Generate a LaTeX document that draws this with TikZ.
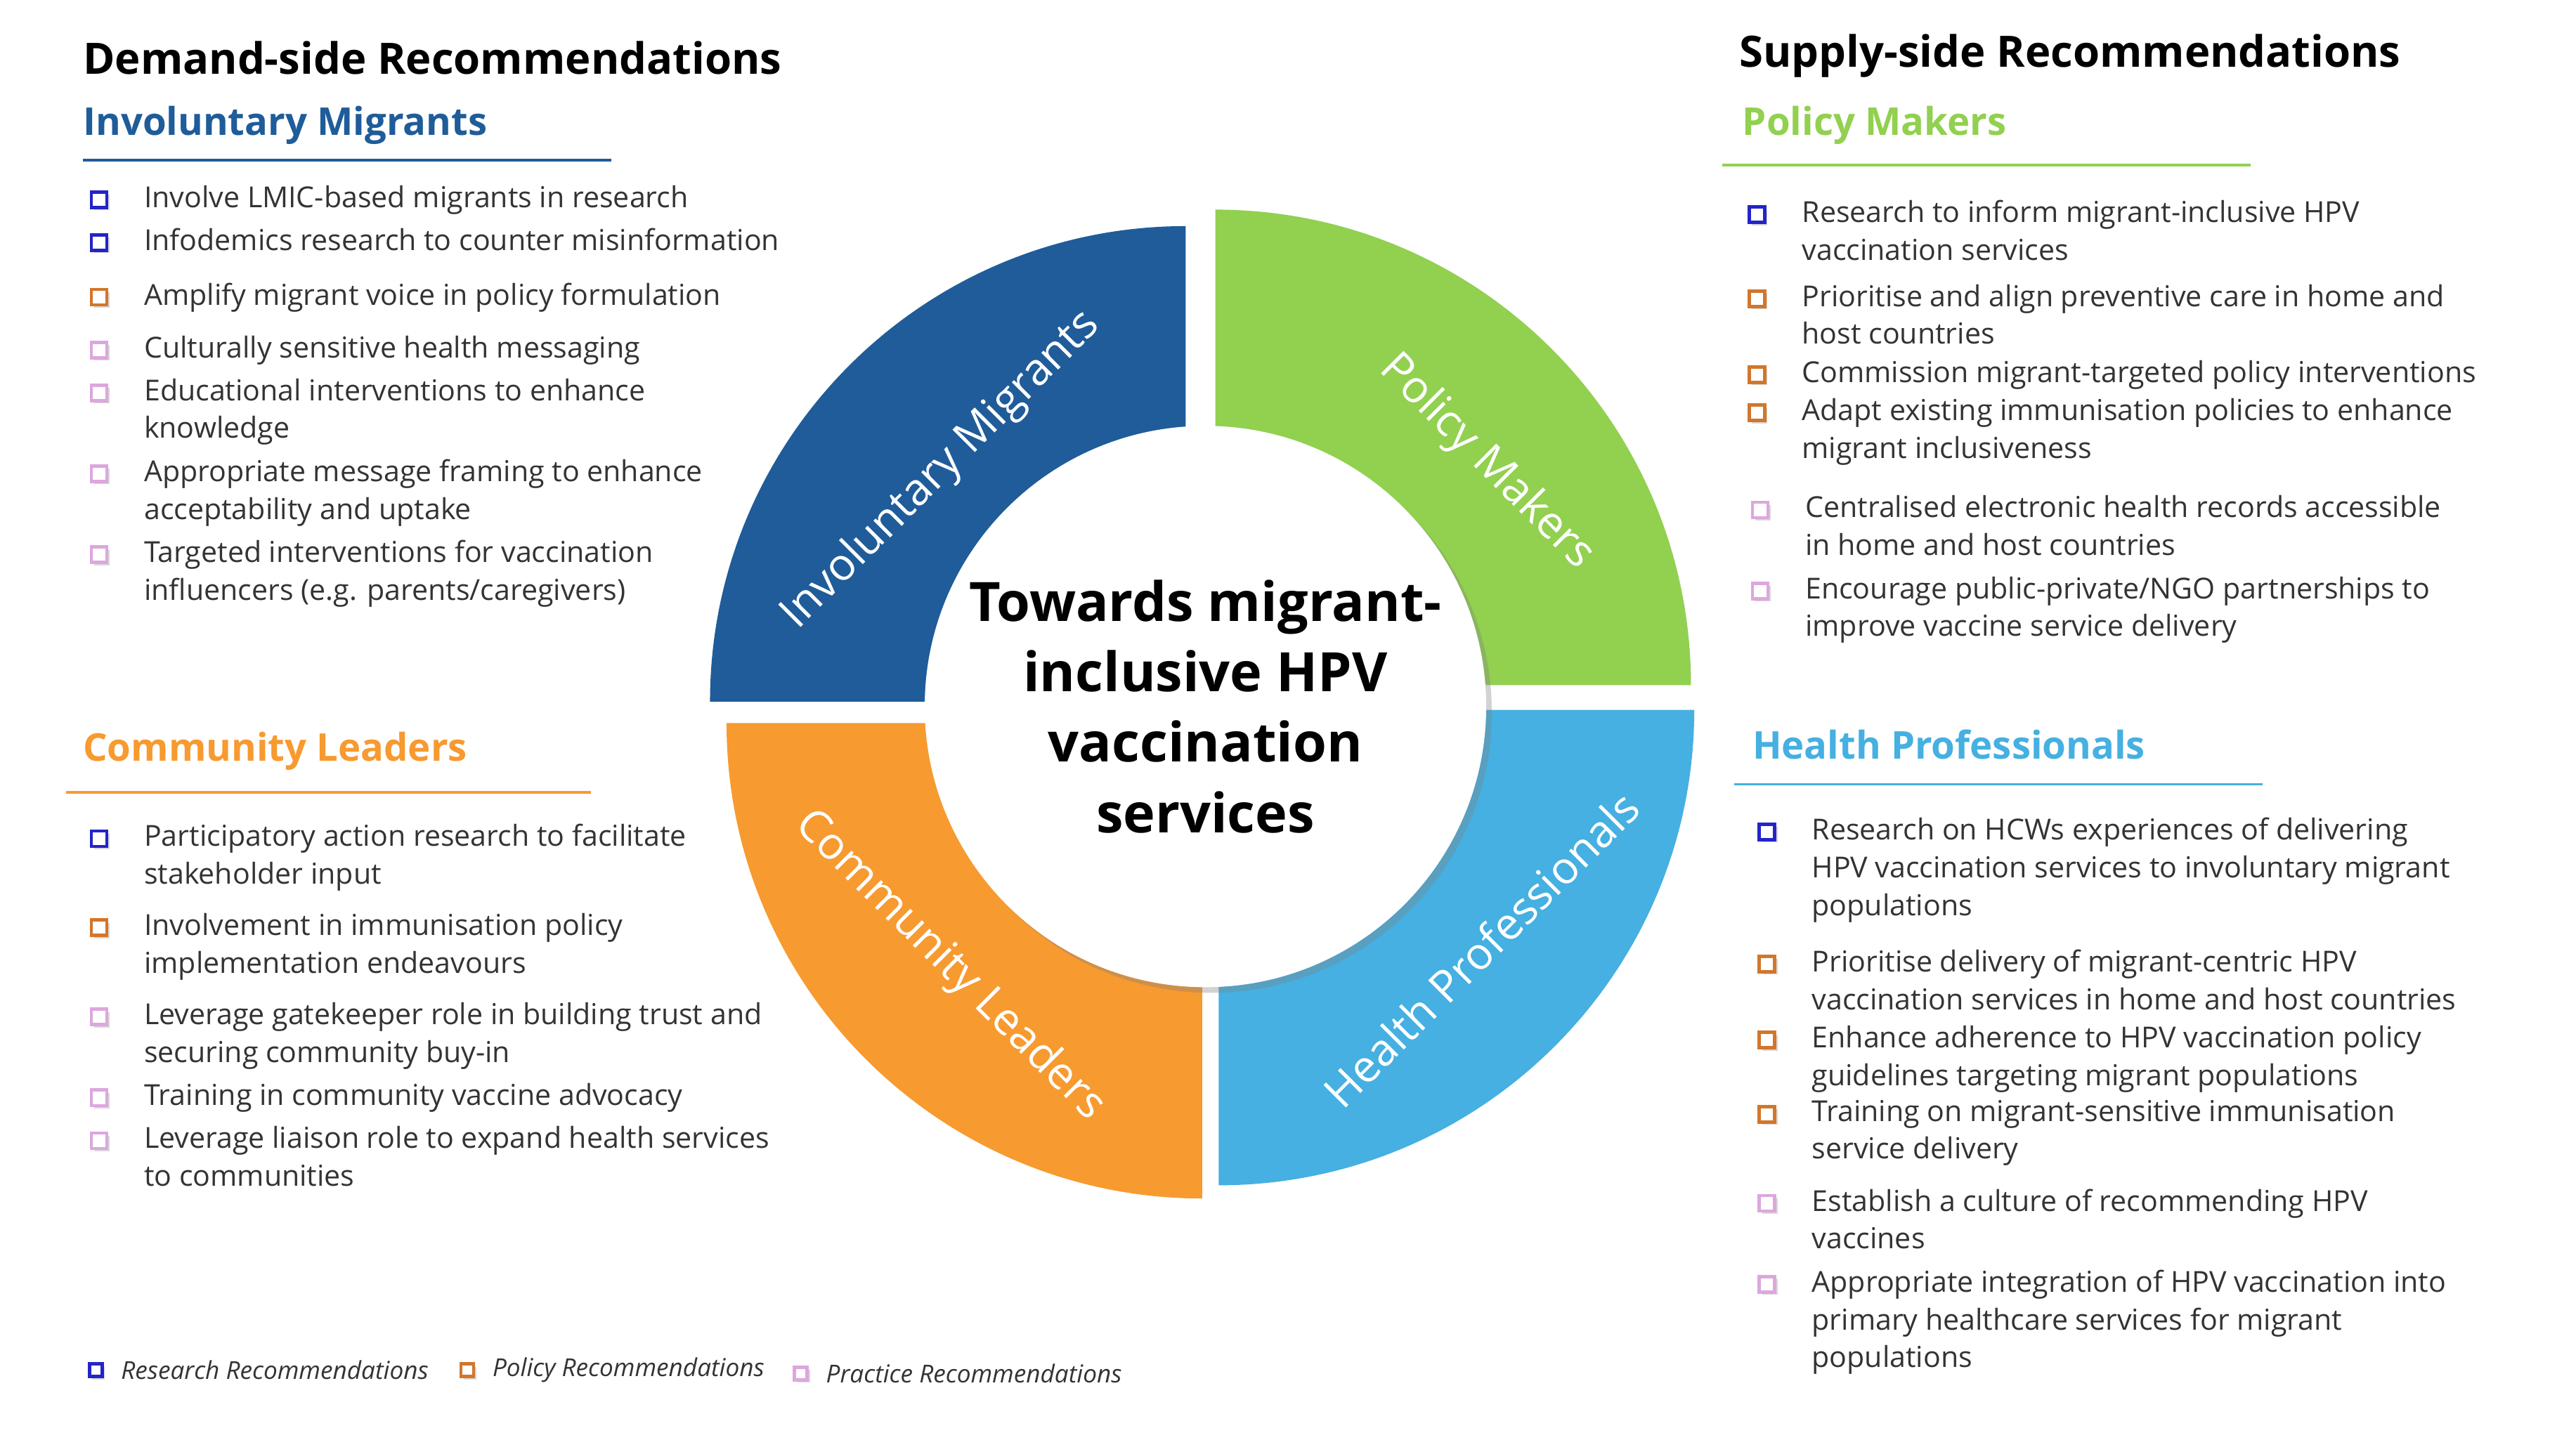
\documentclass[tikz,border=0pt]{standalone}
\usepackage{fontspec}
\setmainfont{Open Sans}
\usetikzlibrary{shadows}

\definecolor{imblue}{HTML}{1F5C99}
\definecolor{pmgreen}{HTML}{92D050}
\definecolor{hpblue}{HTML}{45B0E1}
\definecolor{clorange}{HTML}{F79A30}
\definecolor{resbox}{HTML}{2424C8}
\definecolor{polbox}{HTML}{D2762A}
\definecolor{prabox}{HTML}{DDA6DD}
\definecolor{txtgray}{HTML}{333333}

\tikzset{
  chk/.style={draw=#1, fill=white, line width=1.3pt, minimum size=0.22cm, inner sep=0pt,
    drop shadow={shadow xshift=0.04cm, shadow yshift=-0.04cm, opacity=0.3}},
  item/.style={anchor=north west, inner sep=0pt, align=left, text=txtgray,
    font=\fontsize{11.7}{15.3}\selectfont},
  head/.style={anchor=west, inner sep=0pt, font=\fontsize{17.5}{20}\selectfont\bfseries},
  sub/.style={anchor=west, inner sep=0pt, text=#1, font=\fontsize{15.5}{18}\selectfont\bfseries},
  quad/.style={text=white, font=\fontsize{18}{22}\selectfont},
  legend/.style={anchor=west, inner sep=0pt, text=txtgray, font=\fontsize{10}{12}\selectfont\itshape}
}
\newcommand{\rec}[5]{% box x, text x, y, colour, text
  \node[chk=#4] at (#1,#3) {};
  \node[item] at (#2,#3-9) {#5};}

\begin{document}
\begin{tikzpicture}[x=0.0235cm, y=-0.0235cm]
\useasboundingbox[fill=white] (0,0) rectangle (1560,872);

% ring
\fill[imblue] (718,425) -- ++(180:6.768cm) arc (180:90:6.768cm) -- cycle;
\fill[pmgreen] (736,415) -- ++(90:6.768cm) arc (90:0:6.768cm) -- cycle;
\fill[hpblue] (738,430) -- ++(0:6.768cm) arc (0:-90:6.768cm) -- cycle;
\fill[clorange] (728,438) -- ++(270:6.768cm) arc (270:180:6.768cm) -- cycle;
\node[circle, fill=white, minimum size=7.99cm, inner sep=0pt,
  drop shadow={shadow xshift=0.08cm, shadow yshift=-0.08cm, opacity=0.35}] (hub) at (730,428) {};
\node[align=center, font=\fontsize{22}{28.5}\selectfont\bfseries] (title) at (hub) {Towards migrant-\\inclusive HPV\\vaccination\\services};

\node[quad, rotate=45] (qim) at (570,285) {Involuntary Migrants};
\node[quad, rotate=-45] (qpm) at (900,280) {Policy Makers};
\node[quad, rotate=45] (qhp) at (897,575) {Health Professionals};
\node[quad, rotate=-45] (qcl) at (575,585) {Community Leaders};

% demand side
\node[head] (demand) at (50,35) {Demand-side Recommendations};
\node[sub=imblue] (im) at (50,76) {Involuntary Migrants};
\draw[imblue, line width=1pt] (50,97) -- (370,97);
\rec{60}{87}{121}{resbox}{Involve LMIC-based migrants in research}
\rec{60}{87}{147}{resbox}{Infodemics research to counter misinformation}
\rec{60}{87}{180}{polbox}{Amplify migrant voice in policy formulation}
\rec{60}{87}{212}{prabox}{Culturally sensitive health messaging}
\rec{60}{87}{238}{prabox}{Educational interventions to enhance\\knowledge}
\rec{60}{87}{287}{prabox}{Appropriate message framing to enhance\\acceptability and uptake}
\rec{60}{87}{336}{prabox}{Targeted interventions for vaccination\\influencers (e.g. parents/caregivers)}

\node[sub=clorange] (cl) at (50,455) {Community Leaders};
\draw[clorange, line width=1pt] (40,480) -- (358,480);
\rec{60}{87}{508}{resbox}{Participatory action research to facilitate\\stakeholder input}
\rec{60}{87}{562}{polbox}{Involvement in immunisation policy\\implementation endeavours}
\rec{60}{87}{616}{prabox}{Leverage gatekeeper role in building trust and\\securing community buy-in}
\rec{60}{87}{665}{prabox}{Training in community vaccine advocacy}
\rec{60}{87}{691}{prabox}{Leverage liaison role to expand health services\\to communities}

% supply side
\node[head] (supply) at (1053,34) {Supply-side Recommendations};
\node[sub=pmgreen] (pm) at (1055,76) {Policy Makers};
\draw[pmgreen, line width=1pt] (1043,100) -- (1363,100);
\rec{1064}{1091}{130}{resbox}{Research to inform migrant-inclusive HPV\\vaccination services}
\rec{1064}{1091}{181}{polbox}{Prioritise and align preventive care in home and\\host countries}
\rec{1064}{1091}{227}{polbox}{Commission migrant-targeted policy interventions}
\rec{1064}{1091}{250}{polbox}{Adapt existing immunisation policies to enhance\\migrant inclusiveness}
\rec{1066}{1093}{309}{prabox}{Centralised electronic health records accessible\\in home and host countries}
\rec{1066}{1093}{358}{prabox}{Encourage public-private/NGO partnerships to\\improve vaccine service delivery}

\node[sub=hpblue] (hp) at (1061,451) {Health Professionals};
\draw[hpblue, line width=1pt] (1050,475) -- (1370,475);
\rec{1070}{1097}{504}{resbox}{Research on HCWs experiences of delivering\\HPV vaccination services to involuntary migrant\\populations}
\rec{1070}{1097}{584}{polbox}{Prioritise delivery of migrant-centric HPV\\vaccination services in home and host countries}
\rec{1070}{1097}{630}{polbox}{Enhance adherence to HPV vaccination policy\\guidelines targeting migrant populations}
\rec{1070}{1097}{675}{polbox}{Training on migrant-sensitive immunisation\\service delivery}
\rec{1070}{1097}{729}{prabox}{Establish a culture of recommending HPV\\vaccines}
\rec{1070}{1097}{778}{prabox}{Appropriate integration of HPV vaccination into\\primary healthcare services for migrant\\populations}

% legend
\node[chk=resbox, minimum size=0.18cm] (lres) at (58,830) {};
\node[legend] at (73,830) {Research Recommendations};
\node[chk=polbox, minimum size=0.18cm] (lpol) at (283,830) {};
\node[legend] at (298,830) {Policy Recommendations};
\node[chk=prabox, minimum size=0.18cm] (lpra) at (485,832) {};
\node[legend] at (500,832) {Practice Recommendations};
\end{tikzpicture}
\end{document}
